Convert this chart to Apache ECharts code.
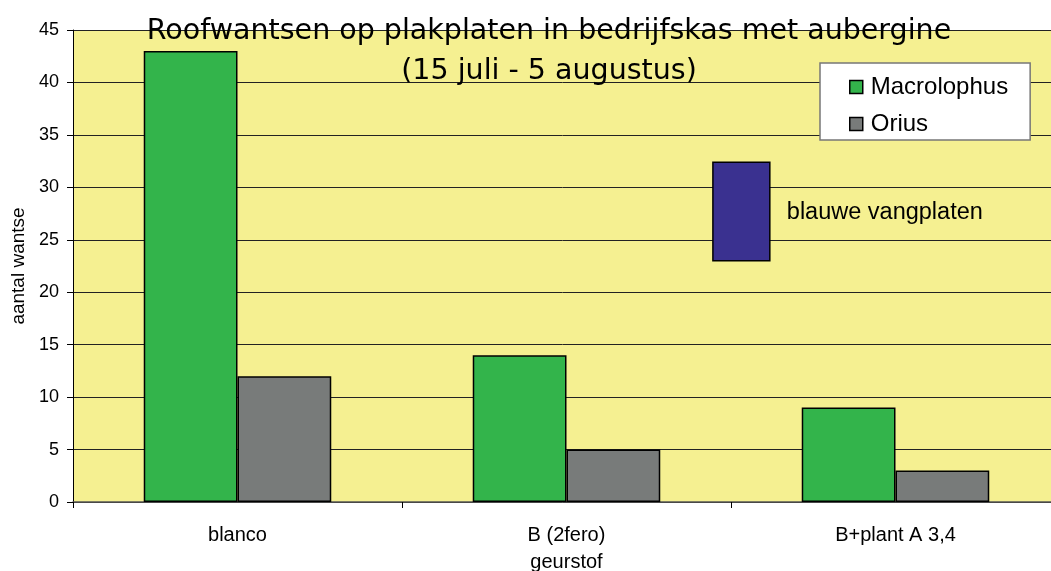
<!DOCTYPE html>
<html>
<head>
<meta charset="utf-8">
<script src="https://cdn.jsdelivr.net/npm/echarts@6/dist/echarts.min.js"></script>
<style>
  html, body { margin: 0; padding: 0; background: #fff; }
  #chart { width: 1051px; height: 571px; }
</style>
</head>
<body>
<div id="chart"></div>
<script>
// data
var categories = ['blanco', 'B (2fero)', 'B+plant A 3,4'];
var macrolophus = [43, 14, 9];
var orius = [12, 5, 3];
// blue trap plate annotation: [x from, x to (category units), y low, y high]
var blauweBox = [[1.945, 2.118, 23, 32.4]];

var FONT = 'Liberation Sans, Arial, Helvetica, sans-serif';

var chart = echarts.init(document.getElementById('chart'), null, { renderer: 'canvas' });

var option = {
  animation: false,
  title: {
    text: 'Roofwantsen op plakplaten in bedrijfskas met aubergine\n(15 juli - 5 augustus)',
    left: 544,
    top: 7,
    textAlign: 'center',
    textStyle: {
      fontFamily: 'DejaVu Sans, sans-serif',
      fontWeight: 'normal',
      fontSize: 28.5,
      color: '#000',
      lineHeight: 40
    }
  },
  legend: {
    left: 820,
    top: 63,
    width: 180,
    orient: 'vertical',
    backgroundColor: '#fff',
    borderColor: '#777',
    borderWidth: 1.5,
    borderRadius: 0,
    padding: [12, 22, 4, 29],
    itemWidth: 13,
    itemHeight: 13,
    itemGap: 13,
    textStyle: { fontFamily: FONT, fontSize: 24, color: '#000', padding: [0, 0, 0, 3] },
    data: [
      { name: 'Macrolophus', icon: 'rect', itemStyle: { borderColor: '#000', borderWidth: 1.5 } },
      { name: 'Orius', icon: 'rect', itemStyle: { borderColor: '#000', borderWidth: 1.5 } }
    ]
  },
  grid: {
    left: 73,
    top: 30,
    bottom: 69,
    right: -9,
    outerBoundsMode: 'none',
    containLabel: false,
    show: true,
    backgroundColor: '#f5f091',
    borderWidth: 0
  },
  xAxis: [
    {
      type: 'category',
      data: categories,
      name: 'geurstof',
      nameLocation: 'middle',
      nameGap: 50,
      nameTextStyle: { fontFamily: FONT, fontSize: 20, color: '#000' },
      axisLine: { lineStyle: { color: '#555', width: 1.5 } },
      axisTick: { show: true, length: 6, lineStyle: { color: '#000' } },
      axisLabel: { margin: 23, fontFamily: FONT, fontSize: 20, color: '#000' }
    },
    {
      type: 'value',
      min: 0,
      max: 3,
      show: false
    }
  ],
  yAxis: {
    type: 'value',
    min: 0,
    max: 45,
    interval: 5,
    name: 'aantal wantse',
    nameLocation: 'middle',
    nameGap: 43,
    nameTextStyle: { fontFamily: FONT, fontSize: 19, color: '#000' },
    axisLine: { show: true, lineStyle: { color: '#000', width: 1 } },
    axisTick: { show: true, length: 6, lineStyle: { color: '#000' } },
    axisLabel: { margin: 14, fontFamily: FONT, fontSize: 18, color: '#000' },
    splitLine: { show: true, lineStyle: { color: '#222', width: 1 } }
  },
  series: [
    {
      name: 'Macrolophus',
      type: 'bar',
      data: macrolophus,
      barGap: '0%',
      barCategoryGap: '43%',
      itemStyle: { color: '#33b44b', borderColor: '#000', borderWidth: 1.5 }
    },
    {
      name: 'Orius',
      type: 'bar',
      data: orius,
      itemStyle: { color: '#787b7a', borderColor: '#000', borderWidth: 1.5 }
    },
    {
      name: 'blauwe vangplaten',
      type: 'custom',
      xAxisIndex: 1,
      data: blauweBox,
      z: 5,
      renderItem: function (params, api) {
        var p0 = api.coord([api.value(0), api.value(3)]);
        var p1 = api.coord([api.value(1), api.value(2)]);
        return {
          type: 'group',
          children: [
            {
              type: 'rect',
              shape: { x: p0[0], y: p0[1], width: p1[0] - p0[0], height: p1[1] - p0[1] },
              style: { fill: '#3a3190', stroke: '#000', lineWidth: 1.5 }
            },
            {
              type: 'text',
              style: {
                text: 'blauwe vangplaten',
                x: p1[0] + 17,
                y: (p0[1] + p1[1]) / 2 + 1,
                verticalAlign: 'middle',
                fill: '#000',
                font: '23.5px ' + FONT
              }
            }
          ]
        };
      }
    }
  ]
};

chart.setOption(option);
</script>
</body>
</html>
